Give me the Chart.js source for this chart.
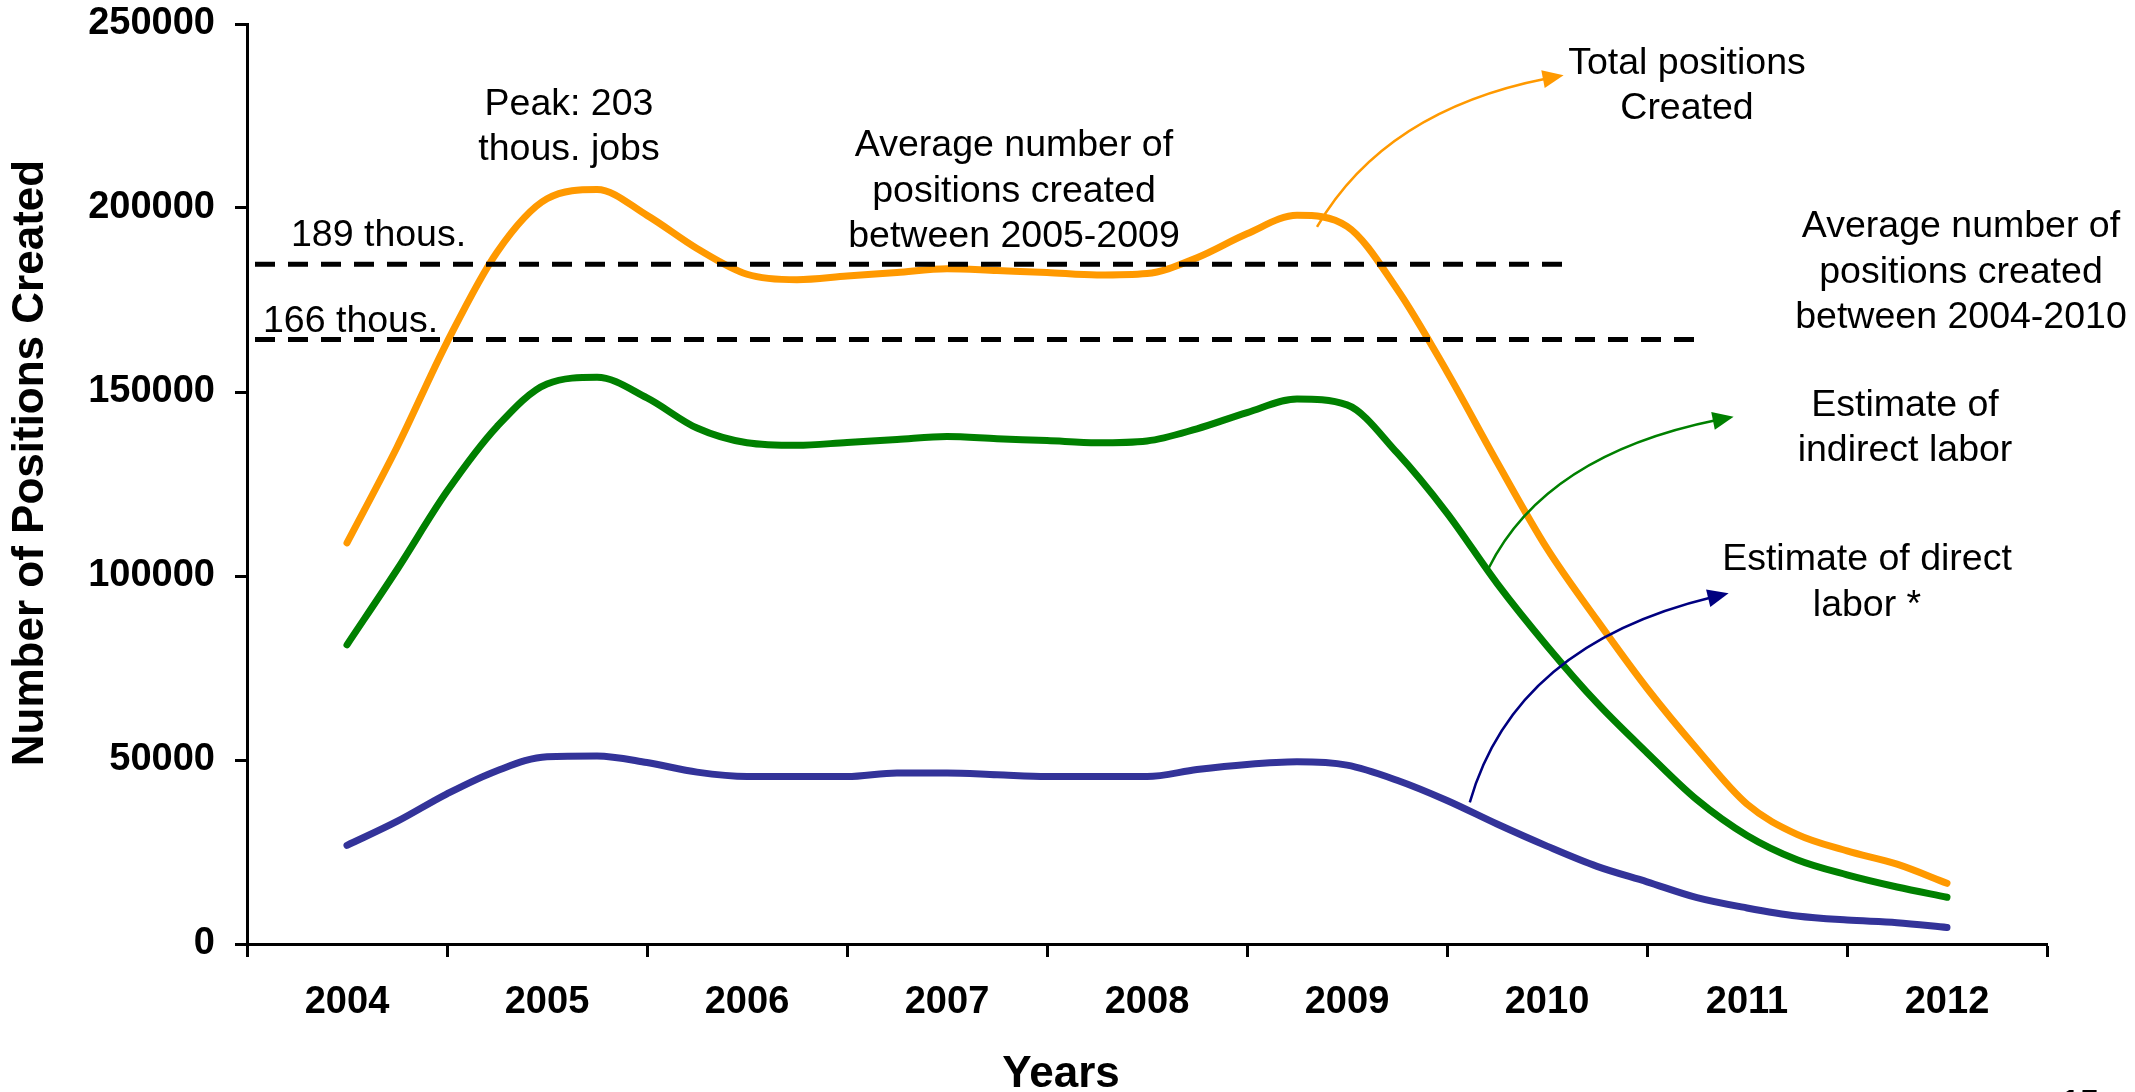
<!DOCTYPE html>
<html>
<head>
<meta charset="utf-8">
<title>Positions created 2004-2012</title>
<script src="https://cdn.jsdelivr.net/npm/chart.js@4.4.1/dist/chart.umd.min.js"></script>
<style>
  html, body { margin: 0; padding: 0; background: #fff; }
  #wrap { width: 2135px; height: 1092px; position: relative; }
</style>
</head>
<body>
<div id="wrap"><canvas id="graficaPuestos"></canvas></div>
<script>
// categories on the x axis
const years = ['2004', '2005', '2006', '2007', '2008', '2009', '2010', '2011', '2012'];

// quarterly points, as decimal years
const periods = [2004, 2004.25, 2004.5, 2004.75, 2005, 2005.25, 2005.5, 2005.75,
    2006, 2006.25, 2006.5, 2006.75, 2007, 2007.25, 2007.5, 2007.75,
    2008, 2008.25, 2008.5, 2008.75, 2009, 2009.25, 2009.5, 2009.75,
    2010, 2010.25, 2010.5, 2010.75, 2011, 2011.25, 2011.5, 2011.75, 2012];

const totalPositions = [109000, 135000, 163500, 188000, 202500, 205000, 198000, 189000,
    182000, 180500, 181500, 182500, 183500, 183000, 182500, 181800,
    182200, 186500, 193000, 198000, 195000, 178000, 155500, 131000,
    107500, 88000, 69500, 53000, 38000, 29800, 25300, 21700, 16500];

const indirectLabor = [81300, 101700, 123000, 140600, 152200, 154000, 148400, 140200,
    136200, 135500, 136300, 137100, 137900, 137300, 136800, 136200,
    136700, 140000, 144400, 148100, 146500, 133500, 117100, 98000,
    81000, 65500, 52000, 39200, 29500, 22900, 18800, 15500, 12700];

const directLabor = [26800, 33300, 40800, 47100, 50900, 51100, 49300, 46700,
    45500, 45500, 45500, 46500, 46500, 46000, 45500, 45500,
    45500, 47400, 48800, 49500, 48600, 44500, 39000, 32600,
    26600, 21100, 16900, 12600, 9800, 7600, 6500, 5800, 4500];

// y axis tick values
const yTicks = [0, 50000, 100000, 150000, 200000, 250000];

// dashed average lines: level, first year, last year
const avgLevels = [184700, 164300];
const avgStart = [2003.54, 2003.54];
const avgEnd = [2010.12, 2010.75];

const FONT = "'Liberation Sans', Arial, sans-serif";
Chart.defaults.font.family = FONT;
Chart.defaults.color = '#000';

// text notes, anchored in data units (x = year, y = value of first baseline)
const notes = [
    { lines: ['Peak: 203', 'thous. jobs'], x: 2005.11, y: 225300, align: 'center' },
    { lines: ['189 thous.'], x: 2003.72, y: 189700, align: 'left' },
    { lines: ['166 thous.'], x: 2003.58, y: 166400, align: 'left' },
    { lines: ['Average number of', 'positions created', 'between 2005-2009'], x: 2007.335, y: 214100, align: 'center' },
    { lines: ['Total positions', 'Created'], x: 2010.70, y: 236500, align: 'center' },
    { lines: ['Average number of', 'positions created', 'between 2004-2010'], x: 2012.07, y: 192000, align: 'center' },
    { lines: ['Estimate of', 'indirect labor'], x: 2011.79, y: 143600, align: 'center' },
    { lines: ['Estimate of direct', 'labor *'], x: 2011.60, y: 101500, align: 'center' }
];

const arrows = [
    { color: '#FF9900', from: [2008.85, 194900], via: [2009.19, 226600], to: [2010.083, 236100] },
    { color: '#008000', from: [2009.708, 102100], via: [2009.99, 132900], to: [2010.933, 143300] },
    { color: '#000080', from: [2009.614, 38500], via: [2009.84, 81250], to: [2010.908, 95300] }
];

const notasPlugin = {
    id: 'notas',
    afterDatasetsDraw(chart) {
        const ctx = chart.ctx;
        const x = chart.scales.x;
        const y = chart.scales.y;
        ctx.save();

        arrows.forEach(a => {
            const sx = x.getPixelForValue(a.from[0]), sy = y.getPixelForValue(a.from[1]);
            const cx = x.getPixelForValue(a.via[0]), cy = y.getPixelForValue(a.via[1]);
            const ex = x.getPixelForValue(a.to[0]), ey = y.getPixelForValue(a.to[1]);
            const ang = Math.atan2(ey - cy, ex - cx);
            const len = 21, half = 9;
            ctx.strokeStyle = a.color;
            ctx.lineWidth = 2.5;
            ctx.beginPath();
            ctx.moveTo(sx, sy);
            ctx.quadraticCurveTo(cx, cy, ex - (len - 4) * Math.cos(ang), ey - (len - 4) * Math.sin(ang));
            ctx.stroke();
            ctx.fillStyle = a.color;
            ctx.beginPath();
            ctx.moveTo(ex, ey);
            ctx.lineTo(ex - len * Math.cos(ang) + half * Math.sin(ang), ey - len * Math.sin(ang) - half * Math.cos(ang));
            ctx.lineTo(ex - len * Math.cos(ang) - half * Math.sin(ang), ey - len * Math.sin(ang) + half * Math.cos(ang));
            ctx.closePath();
            ctx.fill();
        });

        ctx.fillStyle = '#000';
        ctx.font = '37.5px ' + FONT;
        ctx.textBaseline = 'alphabetic';
        notes.forEach(n => {
            const px = x.getPixelForValue(n.x);
            const py = y.getPixelForValue(n.y);
            ctx.textAlign = n.align;
            n.lines.forEach((line, i) => ctx.fillText(line, px, py + i * 45.5));
        });

        // axis titles
        const area = chart.chartArea;
        ctx.font = 'bold 44px ' + FONT;
        ctx.textAlign = 'center';
        ctx.fillText('Years', x.getPixelForValue(2007.57), area.bottom + 143);

        ctx.save();
        ctx.translate(31, (area.top + area.bottom) / 2 - 21);
        ctx.rotate(-Math.PI / 2);
        ctx.textBaseline = 'middle';
        ctx.fillText('Number of Positions Created', 0, 0);
        ctx.restore();

        // slide number, cut by the bottom edge
        ctx.font = 'bold 34px ' + FONT;
        ctx.textAlign = 'left';
        ctx.fillText('15', 2061, chart.height + 21);

        ctx.restore();
    }
};

function serie(label, values, color) {
    return {
        label: label,
        data: periods.map((p, i) => ({ x: p, y: values[i] })),
        borderColor: color,
        backgroundColor: color,
        borderWidth: 7,
        pointRadius: 0,
        fill: false,
        cubicInterpolationMode: 'monotone',
        borderCapStyle: 'round',
        borderJoinStyle: 'round',
        order: 2
    };
}

const avgSets = avgLevels.map((lvl, i) => ({
    label: 'Average ' + (i + 1),
    data: [{ x: avgStart[i], y: lvl }, { x: avgEnd[i], y: lvl }],
    borderColor: '#000',
    borderWidth: 5,
    borderDash: [20, 13],
    pointRadius: 0,
    fill: false,
    order: 1
}));

const ctxPuestos = document.getElementById('graficaPuestos');
new Chart(ctxPuestos, {
    type: 'line',
    data: {
        datasets: [
            serie('Total positions Created', totalPositions, '#FF9900'),
            serie('Estimate of indirect labor', indirectLabor, '#008000'),
            serie('Estimate of direct labor *', directLabor, '#333399')
        ].concat(avgSets)
    },
    options: {
        responsive: true,
        maintainAspectRatio: false,
        animation: false,
        layout: {
            padding: { top: 24, right: 88, bottom: 0, left: 0 }
        },
        plugins: {
            legend: { display: false },
            tooltip: { enabled: false }
        },
        scales: {
            x: {
                type: 'linear',
                min: Number(years[0]) - 0.5,
                max: Number(years[years.length - 1]) + 0.5,
                afterBuildTicks: function(scale) {
                    const t = [];
                    years.forEach(yr => {
                        t.push({ value: Number(yr) - 0.5 });
                        t.push({ value: Number(yr) });
                    });
                    t.push({ value: Number(years[years.length - 1]) + 0.5 });
                    scale.ticks = t;
                },
                afterFit: function(scale) {
                    scale.height = 148;
                    scale.paddingLeft = 0;
                    scale.paddingRight = 0;
                },
                grid: {
                    drawOnChartArea: false,
                    tickLength: 13,
                    tickWidth: 3,
                    tickColor: c => (c.tick && Number.isInteger(c.tick.value)) ? 'rgba(0,0,0,0)' : '#000'
                },
                border: { display: true, color: '#000', width: 3 },
                ticks: {
                    autoSkip: false,
                    maxRotation: 0,
                    minRotation: 0,
                    padding: 23,
                    color: '#000',
                    font: { size: 38, weight: 'bold' },
                    callback: v => Number.isInteger(v) ? String(v) : ''
                }
            },
            y: {
                min: yTicks[0],
                max: yTicks[yTicks.length - 1],
                afterFit: function(scale) {
                    scale.width = 247;
                    scale.paddingTop = 0;
                    scale.paddingBottom = 0;
                },
                grid: {
                    drawOnChartArea: false,
                    tickLength: 12,
                    tickWidth: 3,
                    tickColor: '#000'
                },
                border: { display: true, color: '#000', width: 3 },
                ticks: {
                    stepSize: yTicks[1] - yTicks[0],
                    padding: 20,
                    color: '#000',
                    font: { size: 38, weight: 'bold' },
                    callback: v => String(v)
                }
            }
        }
    },
    plugins: [notasPlugin]
});
</script>
</body>
</html>
